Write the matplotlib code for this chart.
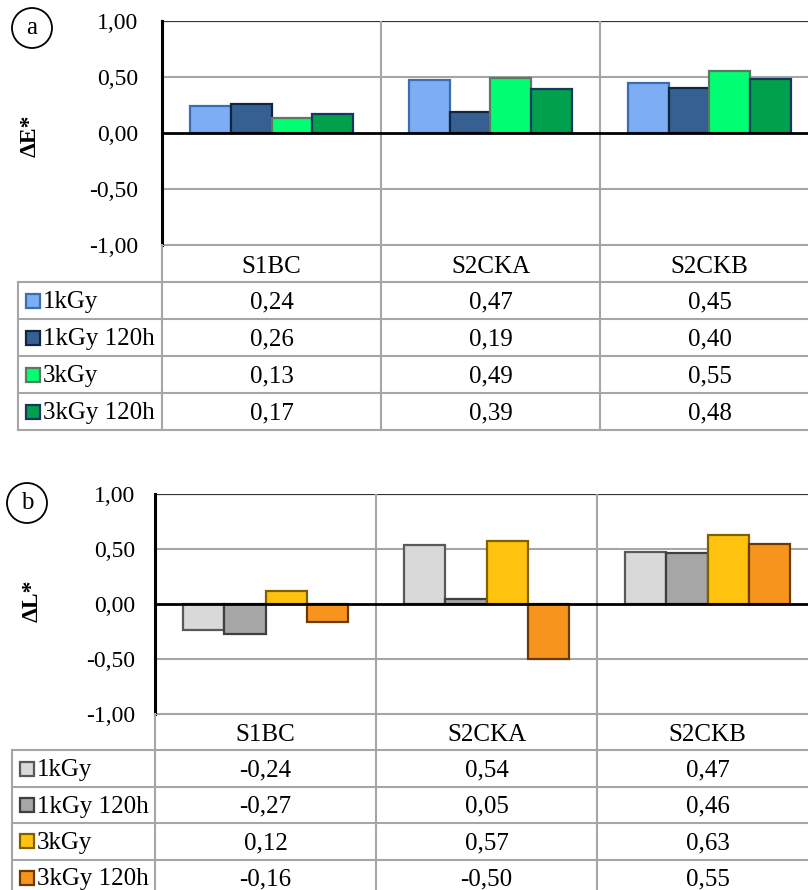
import matplotlib
matplotlib.use('Agg')
import matplotlib.pyplot as plt
from matplotlib.ticker import FuncFormatter, FixedLocator

plt.rcParams['font.family'] = ['Liberation Serif', 'DejaVu Serif']

# data
samples = ['S1BC', 'S2CKA', 'S2CKB']
series = ['1kGy', '1kGy 120h', '3kGy', '3kGy 120h']

dE_1kGy = [0.24, 0.47, 0.45]
dE_1kGy_120h = [0.26, 0.19, 0.40]
dE_3kGy = [0.13, 0.49, 0.55]
dE_3kGy_120h = [0.17, 0.39, 0.48]

dL_1kGy = [-0.24, 0.54, 0.47]
dL_1kGy_120h = [-0.27, 0.05, 0.46]
dL_3kGy = [0.12, 0.57, 0.63]
dL_3kGy_120h = [-0.16, -0.50, 0.55]

colors_a = ['#7dadf2', '#376092', '#00ff73', '#00a04c']
edges_a = ['#3c6db0', '#10253f', '#5a7a62', '#17375e']
colors_b = ['#d9d9d9', '#a6a6a6', '#ffc20e', '#f7941d']
edges_b = ['#595959', '#3f3f3f', '#7f6000', '#6b3a00']

W, H = 808, 890
FS = 17      # tick labels
FS_TAB = 18  # table text
GRID = '#a6a6a6'


def fmt(v):
    return f'{v:.2f}'.replace('.', ',')


def panel(rect_bar, rect_tab, legend_w, data, colors, edges, ylabel, ylab_xy, letter, letter_xy, tickpad):
    fig = plt.gcf()
    l, t, r, b = rect_bar
    ax = fig.add_axes([l / W, 1 - b / H, (r - l) / W, (b - t) / H])
    n = len(samples)
    bw = 0.186
    for i, vals in enumerate(data):
        xs = [c + 0.5 + (i - 1.5) * bw for c in range(n)]
        ax.bar(xs, vals, width=bw, color=colors[i], edgecolor=edges[i], linewidth=1.6, zorder=3)
    ax.set_xlim(0, n)
    ax.set_ylim(-1, 1)
    ax.yaxis.set_major_locator(FixedLocator([-1, -0.5, 0, 0.5, 1]))
    ax.yaxis.set_major_formatter(FuncFormatter(lambda v, p: fmt(v)))
    ax.tick_params(axis='y', length=0, labelsize=FS, pad=tickpad)
    ax.set_xticks([])
    for s in ['top', 'right', 'bottom']:
        ax.spines[s].set_visible(False)
    ax.spines['left'].set_linewidth(2.2)
    ax.spines['left'].set_color('black')
    for y in [-1, -0.5, 0.5]:
        ax.axhline(y, color=GRID, lw=1.5, zorder=1)
    ax.axhline(1, color='#333333', lw=1.6, zorder=1)
    ax.axhline(0, color='black', lw=2.0, zorder=4)
    for c in range(1, n):
        ax.axvline(c, color=GRID, lw=1.5, zorder=1)
    fig.text(ylab_xy[0] / W, 1 - ylab_xy[1] / H, ylabel, rotation=90, ha='center', va='center',
             fontsize=17, fontweight='bold')

    # data table
    l2, t2, r2, b2 = rect_tab
    px_cat = (r2 - l2) / (n + legend_w)
    tx = fig.add_axes([l2 / W, 1 - b2 / H, (r2 - l2) / W, (b2 - t2) / H])
    tx.set_xlim(-legend_w, n)
    tx.set_ylim(len(series) + 1, 0)
    tx.axis('off')
    tx.plot([0, n], [0, 0], color=GRID, lw=1.5)
    for k in range(1, len(series) + 2):
        tx.plot([-legend_w, n], [k, k], color=GRID, lw=1.5, clip_on=False)
    tx.plot([-legend_w, -legend_w], [1, len(series) + 1], color=GRID, lw=1.5, clip_on=False)
    for c in range(0, n):
        tx.plot([c, c], [0, len(series) + 1], color=GRID, lw=1.5, clip_on=False)
    for c, name in enumerate(samples):
        tx.text(c + 0.5, 0.75, name, ha='center', va='baseline', fontsize=FS_TAB)
    for i, vals in enumerate(data):
        yb = i + 1.71
        tx.plot([-legend_w + 15 / px_cat], [i + 1.5], marker='s', markersize=9.5,
                markerfacecolor=colors[i], markeredgecolor=edges[i], markeredgewidth=1.6)
        tx.text(-legend_w + 25 / px_cat, yb, series[i], ha='left', va='baseline', fontsize=FS_TAB)
        for c, v in enumerate(vals):
            tx.text(c + 0.5, yb, fmt(v), ha='center', va='baseline', fontsize=FS_TAB)

    fig.text(letter_xy[0] / W, 1 - letter_xy[1] / H, letter, ha='center', va='center', fontsize=FS_TAB,
             bbox=dict(boxstyle='circle,pad=0.36', fc='white', ec='black', lw=1.3))


fig = plt.figure(figsize=(W / 100, H / 100), dpi=100)

panel((162, 21, 819, 245), (18, 245, 819, 430), 144 / 219,
      [dE_1kGy, dE_1kGy_120h, dE_3kGy, dE_3kGy_120h], colors_a, edges_a,
      'ΔE*', (30, 136), 'a', (32, 28), 17)

panel((155, 494, 818, 714), (12, 714, 818, 896), 143 / 221,
      [dL_1kGy, dL_1kGy_120h, dL_3kGy, dL_3kGy_120h], colors_b, edges_b,
      'ΔL*', (32, 601), 'b', (27, 503), 14)

fig.savefig('out.png', dpi=100)
